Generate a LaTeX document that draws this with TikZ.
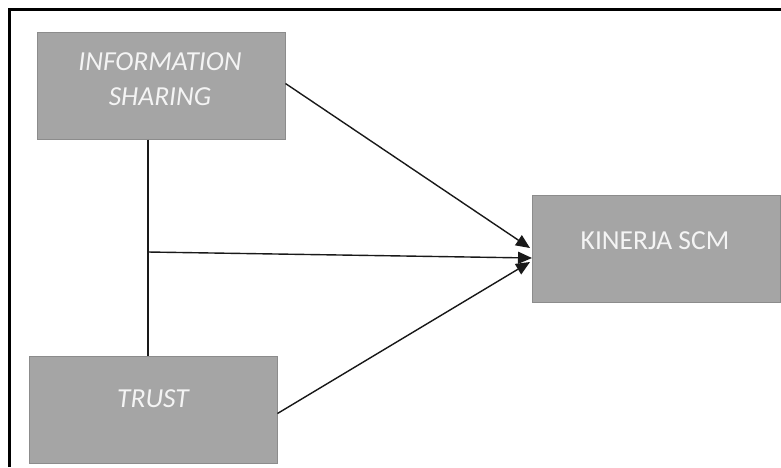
\documentclass[tikz,border=0pt]{standalone}
\usepackage{fontspec}
\setmainfont{Carlito}
\usetikzlibrary{arrows.meta,calc}
\definecolor{boxfill}{HTML}{A5A5A5}
\definecolor{boxline}{HTML}{8C8C8C}
\definecolor{boxtext}{HTML}{F4F4F4}
\tikzset{
  varbox/.style={draw=boxline, line width=1pt, fill=boxfill, minimum width=248pt, minimum height=107pt, inner sep=0pt},
  vartext/.style={text=boxtext, font=\fontsize{27.5}{35}\selectfont, align=center, inner sep=0pt},
  conn/.style={line width=1.4pt, draw=black!90},
  arr/.style={conn, -{Triangle[length=14pt,width=12pt]}}
}
\begin{document}
\begin{tikzpicture}[x=1pt,y=-1pt]
\useasboundingbox (0,0) rectangle (781,467);
% frame
\draw[line width=2.5pt] (9.5,467) -- (9.5,9.5) -- (781,9.5);
% boxes
\node[varbox] (is) at (161,85.5) {};
\node[varbox] (kin) at (656.5,249) {};
\node[varbox] (trust) at (153,409.5) {};
% texts
\node[vartext] (ist) at (160,79) {\itshape INFORMATION\\\itshape SHARING};
\node[vartext] (kint) at (655,241) {KINERJA SCM};
\node[vartext] (trt) at (153,399) {\itshape TRUST};
% connectors
\coordinate (top) at (148,139);
\coordinate (bot) at (148,356);
\coordinate (mid) at (148,252);
\coordinate (t1) at ($(kin.west)+(-2,-1)$);
\coordinate (t2) at ($(kin.west)+(0,9)$);
\coordinate (t3) at ($(kin.west)+(-2,13)$);
\draw[conn] (is.south -| top) -- (trust.north -| bot);
\draw[arr] (is.east) ++(0,-2) -- (t1);
\draw[arr] (mid) -- (t2);
\draw[arr] (trust.east) ++(0,4) -- (t3);
\end{tikzpicture}
\end{document}
